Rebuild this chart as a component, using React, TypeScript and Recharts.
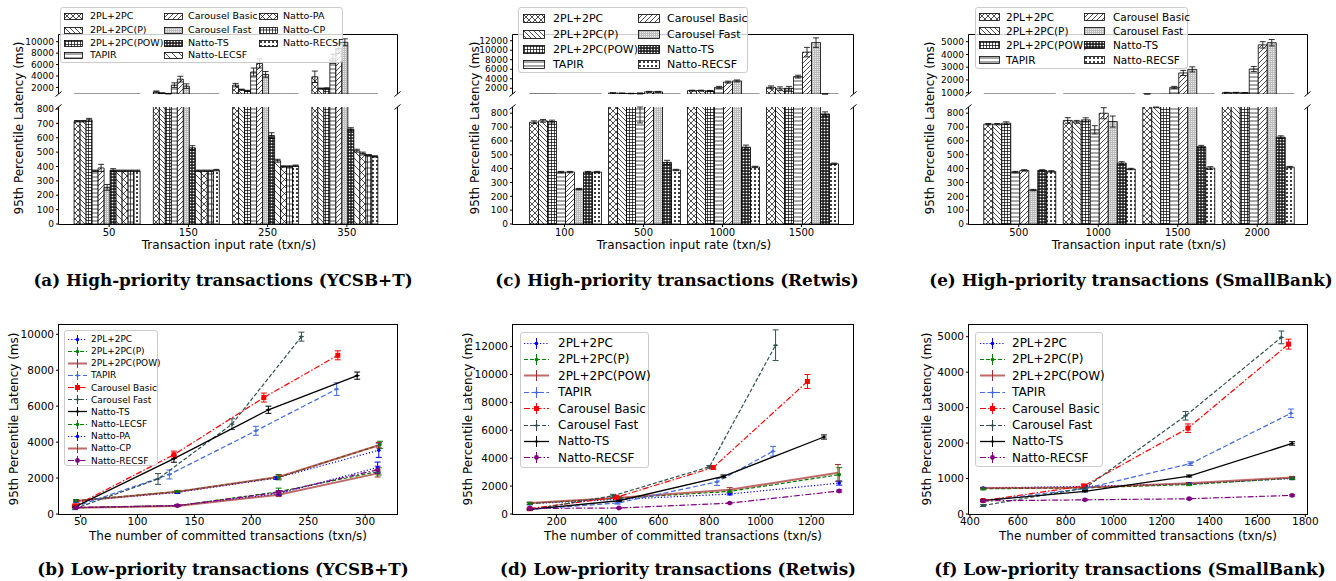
import React from 'react';
import { BarChart, Bar, LineChart, Line, XAxis, YAxis, ErrorBar } from 'recharts';

const FONT = '"DejaVu Sans", sans-serif';
const SERIF = '"DejaVu Serif", "Liberation Serif", serif';

// ---------- high-priority (bars) ----------
const ycsbRates = ['50', '150', '250', '350'];
const ycsbNames = [
  '2PL+2PC', '2PL+2PC(P)', '2PL+2PC(POW)', 'TAPIR', 'Carousel Basic', 'Carousel Fast',
  'Natto-TS', 'Natto-LECSF', 'Natto-PA', 'Natto-CP', 'Natto-RECSF',
];
const ycsbHigh = [
  [715, 1230, 2400, 3860],
  [715, 1000, 1600, 1800],
  [725, 900, 1400, 1800],
  [370, 2400, 4700, 7000],
  [390, 3450, 6200, 8800],
  [255, 2230, 4280, 9900],
  [375, 530, 615, 660],
  [370, 370, 440, 510],
  [370, 370, 400, 490],
  [370, 370, 400, 478],
  [370, 375, 405, 470],
];
const ycsbHighErr = [
  [5, 150, 300, 1000], [5, 50, 100, 100], [10, 50, 100, 150], [5, 400, 700, 800],
  [25, 500, 800, 900], [20, 400, 500, 600], [10, 15, 20, 10], [5, 5, 10, 10],
  [5, 5, 5, 10], [5, 5, 5, 5], [5, 5, 5, 5],
];

const shortNames = [
  '2PL+2PC', '2PL+2PC(P)', '2PL+2PC(POW)', 'TAPIR', 'Carousel Basic', 'Carousel Fast',
  'Natto-TS', 'Natto-RECSF',
];

const retwisRates = ['100', '500', '1000', '1500'];
const retwisHigh = [
  [735, 1000, 1500, 2200],
  [745, 950, 1500, 1900],
  [740, 900, 1450, 2000],
  [375, 880, 2200, 4450],
  [375, 1250, 3300, 9600],
  [252, 1250, 3550, 11600],
  [375, 445, 555, 795],
  [375, 390, 412, 435],
];
const retwisHighErr = [
  [10, 50, 100, 300], [10, 50, 100, 400], [10, 50, 100, 400], [5, 150, 200, 300],
  [5, 100, 200, 1000], [5, 100, 200, 1000], [5, 15, 15, 15], [5, 5, 5, 5],
];

const bankRates = ['500', '1000', '1500', '2000'];
const bankHigh = [
  [721, 748, 880, 1000],
  [721, 738, 860, 1000],
  [728, 752, 870, 990],
  [375, 680, 1420, 2860],
  [387, 800, 2550, 4750],
  [245, 740, 2830, 4920],
  [387, 440, 558, 627],
  [380, 397, 404, 411],
];
const bankHighErr = [
  [5, 20, 20, 30], [5, 10, 20, 30], [10, 15, 20, 30], [5, 30, 80, 200],
  [5, 40, 200, 250], [5, 40, 200, 250], [5, 10, 10, 10], [5, 5, 10, 5],
];

// ---------- low-priority (lines) ----------
const ycsbLowX = [
  [46, 135, 222, 312], [46, 135, 224, 313], [46, 135, 224, 312], [45, 128, 204, 275],
  [45, 132, 211, 276], [45, 118, 183, 244], [45, 132, 215, 293], [46, 135, 224, 312],
  [46, 135, 224, 311], [46, 135, 224, 311], [46, 135, 224, 311],
];
const ycsbLowY = [
  [720, 1200, 2000, 3550], [740, 1250, 2050, 3850], [730, 1240, 2060, 3830],
  [400, 2200, 4630, 6950], [460, 3300, 6480, 8830], [300, 1950, 5000, 9870],
  [400, 3080, 5800, 7700], [350, 460, 1240, 2370], [350, 460, 1130, 2590],
  [350, 450, 1075, 2260], [360, 470, 1200, 2460],
];
const ycsbLowErr = [
  [60, 60, 80, 400], [60, 60, 150, 200], [40, 40, 100, 150], [60, 250, 250, 350],
  [50, 200, 250, 250], [60, 300, 300, 250], [40, 200, 200, 200], [30, 50, 200, 200],
  [30, 40, 100, 300], [30, 40, 100, 200], [40, 40, 100, 200],
];

const retwisLowX = [
  [95, 445, 880, 1310], [95, 445, 880, 1310], [95, 445, 880, 1305], [95, 440, 830, 1050],
  [95, 435, 815, 1185], [95, 422, 800, 1060], [95, 445, 855, 1250], [95, 445, 880, 1310],
];
const retwisLowY = [
  [740, 1050, 1430, 2220], [760, 1130, 1620, 2820], [780, 1170, 1740, 2950],
  [330, 790, 2300, 4500], [380, 1200, 3330, 9500], [300, 1310, 3380, 12100],
  [330, 950, 2700, 5520], [400, 430, 780, 1650],
];
const retwisLowErr = [
  [80, 60, 60, 150], [80, 80, 100, 500], [60, 80, 150, 600], [60, 80, 250, 350],
  [40, 100, 100, 500], [50, 100, 100, 1100], [40, 60, 100, 150], [40, 40, 40, 80],
];

const bankLowX = [
  [455, 880, 1315, 1745], [455, 880, 1315, 1745], [455, 880, 1315, 1745], [455, 880, 1320, 1740],
  [455, 875, 1310, 1730], [455, 880, 1300, 1700], [455, 880, 1315, 1745], [455, 880, 1315, 1745],
];
const bankLowY = [
  [730, 780, 850, 1000], [710, 740, 830, 1010], [730, 750, 870, 1030],
  [370, 720, 1420, 2840], [380, 790, 2420, 4790], [240, 730, 2770, 4980],
  [380, 640, 1070, 1990], [370, 400, 430, 525],
];
const bankLowErr = [
  [20, 20, 20, 30], [30, 20, 30, 40], [20, 20, 20, 30], [30, 40, 50, 120],
  [30, 50, 120, 140], [30, 40, 120, 180], [20, 20, 30, 50], [20, 20, 20, 20],
];

// ---------- styling ----------
const patternOf: Record<string, string> = {
  '2PL+2PC': 'p-xx', '2PL+2PC(P)': 'p-bs', '2PL+2PC(POW)': 'p-plus', TAPIR: 'p-h',
  'Carousel Basic': 'p-fs', 'Carousel Fast': 'p-gray', 'Natto-TS': 'p-star',
  'Natto-LECSF': 'p-bs2', 'Natto-PA': 'p-x2', 'Natto-CP': 'p-grid', 'Natto-RECSF': 'p-dots',
};

type LS = { color: string; dash: string; width: number; marker: string; opacity?: number; r?: number };
const lineStyles: Record<string, LS> = {
  '2PL+2PC': { color: '#0000ff', dash: '1.2 2', width: 1.2, marker: 'circle', r: 1.8 },
  '2PL+2PC(P)': { color: '#008000', dash: '4 2', width: 1.2, marker: 'circle', r: 1.8 },
  '2PL+2PC(POW)': { color: '#a52a2a', dash: '', width: 2, marker: 'none', opacity: 0.7 },
  TAPIR: { color: '#4169e1', dash: '5 2.5', width: 1.2, marker: 'plus' },
  'Carousel Basic': { color: '#ff0000', dash: '6 2 1.5 2', width: 1.2, marker: 'square' },
  'Carousel Fast': { color: '#2f4f4f', dash: '4 2', width: 1.2, marker: 'plus' },
  'Natto-TS': { color: '#000000', dash: '', width: 1.3, marker: 'plus' },
  'Natto-LECSF': { color: '#008000', dash: '4 2', width: 1.2, marker: 'circle', r: 1.8 },
  'Natto-PA': { color: '#0000ff', dash: '1.2 2', width: 1.2, marker: 'circle', r: 1.8 },
  'Natto-CP': { color: '#a52a2a', dash: '', width: 2, marker: 'none', opacity: 0.7 },
  'Natto-RECSF': { color: '#800080', dash: '6 2 1.5 2', width: 1.2, marker: 'circle', r: 2.4 },
};

const YW = 44;
const M = 8;
const MR = 18;
const XH = 18;
const UT = 35, UB = 94, LT = 107, LB = 224;
const BT = 325, BB = 514;

function Patterns() {
  const ln = { stroke: '#000', strokeWidth: 0.7, fill: 'none' };
  return (
    <svg width={0} height={0} style={{ position: 'absolute' }}>
      <defs>
        <pattern id="p-xx" width={6} height={6} patternUnits="userSpaceOnUse">
          <rect width={6} height={6} fill="#fff" />
          <path d="M0,0L6,6M6,0L0,6" {...ln} />
        </pattern>
        <pattern id="p-bs" width={5} height={5} patternUnits="userSpaceOnUse">
          <rect width={5} height={5} fill="#fff" />
          <path d="M0,0L5,5M-1,4L1,6M4,-1L6,1" {...ln} />
        </pattern>
        <pattern id="p-plus" width={3} height={3} patternUnits="userSpaceOnUse">
          <rect width={3} height={3} fill="#fff" />
          <path d="M1.5,0V3M0,1.5H3" {...ln} />
        </pattern>
        <pattern id="p-h" width={4} height={4} patternUnits="userSpaceOnUse">
          <rect width={4} height={4} fill="#fff" />
          <path d="M0,2H4" {...ln} />
        </pattern>
        <pattern id="p-fs" width={5} height={5} patternUnits="userSpaceOnUse">
          <rect width={5} height={5} fill="#fff" />
          <path d="M0,5L5,0M-1,1L1,-1M4,6L6,4" {...ln} />
        </pattern>
        <pattern id="p-gray" width={2} height={2} patternUnits="userSpaceOnUse">
          <rect width={2} height={2} fill="#bdbdbd" />
          <rect x={0} y={0} width={1} height={1} fill="#ececec" />
        </pattern>
        <pattern id="p-star" width={3} height={3} patternUnits="userSpaceOnUse">
          <rect width={3} height={3} fill="#222" />
          <circle cx={1.5} cy={1.5} r={0.85} fill="#fff" />
        </pattern>
        <pattern id="p-bs2" width={7} height={7} patternUnits="userSpaceOnUse">
          <rect width={7} height={7} fill="#fff" />
          <path d="M0,0L7,7M-1,6L1,8M6,-1L8,1" {...ln} />
        </pattern>
        <pattern id="p-x2" width={7} height={7} patternUnits="userSpaceOnUse">
          <rect width={7} height={7} fill="#fff" />
          <path d="M0,0L7,7M7,0L0,7" {...ln} />
        </pattern>
        <pattern id="p-grid" width={3} height={6} patternUnits="userSpaceOnUse">
          <rect width={3} height={6} fill="#fff" />
          <path d="M1.5,0V6M0,3H3" {...ln} />
        </pattern>
        <pattern id="p-dots" width={4} height={4} patternUnits="userSpaceOnUse">
          <rect width={4} height={4} fill="#fff" />
          <circle cx={2} cy={2} r={1} fill="#000" />
        </pattern>
      </defs>
    </svg>
  );
}

type Axis = { domain: [number, number]; ticks: number[] };

// error bar limited to the visible range of one half of a broken axis
function clipErr(v: number, e: number, lo: number, hi: number) {
  if (v + e < lo || v - e > hi) return undefined;
  return [Math.min(e, v - lo), Math.min(e, hi - v)];
}

type BarPanelProps = {
  rates: string[]; names: string[]; values: number[][]; errs: number[][];
  L: number; R: number; pad: number; gap: number; upper: Axis; lower: Axis;
};

function BarPanel(p: BarPanelProps) {
  const makeRows = (ax: Axis) => p.rates.map((r, i) => {
    const row: Record<string, any> = { rate: r };
    p.values.forEach((v, s) => {
      row['v' + s] = v[i];
      row['e' + s] = clipErr(v[i], p.errs[s][i], ax.domain[0], ax.domain[1]);
    });
    return row;
  });
  const w = YW + (p.R - p.L) + MR;
  const yTick = { fill: '#000', fontSize: 9, fontFamily: FONT };
  const bars = p.names.map((n, s) => (
    <Bar key={n} dataKey={'v' + s} fill={`url(#${patternOf[n]})`} stroke="#000" strokeWidth={0.8} isAnimationActive={false}>
      <ErrorBar dataKey={'e' + s} width={3} stroke="#000" strokeWidth={0.8} />
    </Bar>
  ));
  return (
    <>
      <div style={{ position: 'absolute', left: p.L - YW, top: UT - M }}>
        <BarChart width={w} height={M + UB - UT + 6} data={makeRows(p.upper)} margin={{ top: M, right: MR, bottom: 6, left: 0 }}
          barCategoryGap={p.gap} barGap={0}>
          <XAxis dataKey="rate" hide padding={{ left: p.pad, right: p.pad }} />
          <YAxis type="number" width={YW} domain={p.upper.domain} ticks={p.upper.ticks} allowDataOverflow axisLine={false}
            tickSize={3} tickMargin={2} tickLine={{ stroke: '#000' }} tick={yTick} interval={0} />
          {bars}
        </BarChart>
      </div>
      <div style={{ position: 'absolute', left: p.L - YW, top: LT - M }}>
        <BarChart width={w} height={M + LB - LT + XH} data={makeRows(p.lower)} margin={{ top: M, right: MR, bottom: 0, left: 0 }}
          barCategoryGap={p.gap} barGap={0}>
          <XAxis dataKey="rate" padding={{ left: p.pad, right: p.pad }} axisLine={false} height={XH} interval={0}
            tickSize={3} tickMargin={2} tickLine={{ stroke: '#000' }} tick={{ fill: '#000', fontSize: 10, fontFamily: FONT }} />
          <YAxis type="number" width={YW} domain={p.lower.domain} ticks={p.lower.ticks} allowDataOverflow axisLine={false}
            tickSize={3} tickMargin={2} tickLine={{ stroke: '#000' }} tick={yTick} interval={0} />
          {bars}
        </BarChart>
      </div>
    </>
  );
}

function dotFor(st: LS) {
  return (props: any) => {
    const { cx, cy, index } = props;
    if (cx == null || cy == null || st.marker === 'none') return <g key={index} />;
    if (st.marker === 'square') {
      return <rect key={index} x={cx - 2.5} y={cy - 2.5} width={5} height={5} fill={st.color} />;
    }
    if (st.marker === 'plus') {
      return (
        <g key={index}>
          <path d={`M${cx - 2.5},${cy}H${cx + 2.5}`} stroke={st.color} strokeWidth={1} />
          <circle cx={cx} cy={cy} r={1.3} fill={st.color} />
        </g>
      );
    }
    return <circle key={index} cx={cx} cy={cy} r={st.r ?? 2} fill={st.color} />;
  };
}

type LinePanelProps = {
  names: string[]; xs: number[][]; ys: number[][]; errs: number[][];
  L: number; R: number; x: Axis; y: Axis;
};

function LinePanel(p: LinePanelProps) {
  const tick = { fill: '#000', fontSize: 10.5, fontFamily: FONT };
  return (
    <div style={{ position: 'absolute', left: p.L - YW, top: BT - M }}>
      <LineChart width={YW + (p.R - p.L) + MR} height={M + BB - BT + XH} margin={{ top: M, right: MR, bottom: 0, left: 0 }}>
        <XAxis type="number" dataKey="x" domain={p.x.domain} ticks={p.x.ticks} allowDataOverflow axisLine={false}
          height={XH} interval={0} tickSize={3} tickMargin={1} tickLine={{ stroke: '#000' }} tick={tick} />
        <YAxis type="number" dataKey="y" width={YW} domain={p.y.domain} ticks={p.y.ticks} allowDataOverflow axisLine={false}
          interval={0} tickSize={3} tickMargin={2} tickLine={{ stroke: '#000' }} tick={tick} />
        {p.names.map((n, s) => {
          const st = lineStyles[n];
          const data = p.xs[s].map((xv, i) => ({ x: xv, y: p.ys[s][i], err: p.errs[s][i] }));
          return (
            <Line key={n} data={data} dataKey="y" stroke={st.color} strokeWidth={st.width} strokeOpacity={st.opacity ?? 1}
              strokeDasharray={st.dash || undefined} dot={dotFor(st)} activeDot={false} isAnimationActive={false}>
              <ErrorBar dataKey="err" width={3} stroke={st.color} strokeWidth={1} direction="y" />
            </Line>
          );
        })}
      </LineChart>
    </div>
  );
}

type LegendProps = {
  left: number; top: number; width: number; height: number; names: string[];
  cols: number[]; textCols: number[]; rows: number[]; perCol: number; font: number; sw: number; sh: number; lines?: boolean;
};

function Legend(p: LegendProps) {
  return (
    <div style={{
      position: 'absolute', left: p.left, top: p.top, width: p.width, height: p.height,
      background: 'rgba(255,255,255,0.8)', border: '1px solid #cccccc', borderRadius: 3, boxSizing: 'border-box',
    }}>
      {p.names.map((n, i) => {
        const c = Math.floor(i / p.perCol);
        const r = i % p.perCol;
        const st = lineStyles[n];
        return (
          <React.Fragment key={n}>
            <svg style={{ position: 'absolute', left: p.cols[c], top: p.rows[r] - p.sh / 2 }} width={p.sw} height={p.sh}>
              {p.lines ? (
                <>
                  <line x1={0} x2={p.sw} y1={p.sh / 2} y2={p.sh / 2} stroke={st.color} strokeWidth={st.width}
                    strokeOpacity={st.opacity ?? 1} strokeDasharray={st.dash || undefined} />
                  <line x1={p.sw / 2} x2={p.sw / 2} y1={0} y2={p.sh} stroke={st.color} strokeWidth={1} />
                  {dotFor(st)({ cx: p.sw / 2, cy: p.sh / 2, index: 0 })}
                </>
              ) : (
                <rect x={0.5} y={0.5} width={p.sw - 1} height={p.sh - 1} fill={`url(#${patternOf[n]})`} stroke="#000" strokeWidth={0.8} />
              )}
            </svg>
            <div style={{
              position: 'absolute', left: p.textCols[c], top: p.rows[r], transform: 'translateY(-50%)',
              fontFamily: FONT, fontSize: p.font, whiteSpace: 'nowrap', lineHeight: 1,
            }}>{n}</div>
          </React.Fragment>
        );
      })}
    </div>
  );
}

function Text(props: { x: number; y: number; size: number; rotate?: boolean; serif?: boolean; children: React.ReactNode }) {
  return (
    <div style={{
      position: 'absolute', left: props.x, top: props.y, whiteSpace: 'nowrap', lineHeight: 1,
      transform: `translate(-50%,-50%)${props.rotate ? ' rotate(-90deg)' : ''}`,
      fontFamily: props.serif ? SERIF : FONT, fontSize: props.size, fontWeight: props.serif ? 700 : 400,
    }}>{props.children}</div>
  );
}

function Frames() {
  const tops: [number, number][] = [[59, 397], [513, 853], [969, 1307]];
  const brk = (x: number, y: number) => `M${x - 3},${y + 2.5}L${x + 3},${y - 2.5}`;
  return (
    <svg width={1336} height={581} style={{ position: 'absolute', left: 0, top: 0, pointerEvents: 'none' }}>
      {tops.map(([l, r]) => (
        <g key={l} fill="none" stroke="#000" strokeWidth={1}>
          <path d={`M${l - 0.5},${UB}V${UT - 0.5}H${r + 0.5}V${UB}`} />
          <path d={`M${l - 0.5},${LT}V${LB + 0.5}H${r + 0.5}V${LT}`} />
          <path d={brk(l - 0.5, UB) + brk(r + 0.5, UB) + brk(l - 0.5, LT) + brk(r + 0.5, LT)} />
          <rect x={l - 0.5} y={BT - 0.5} width={r - l + 1} height={BB - BT + 1} />
        </g>
      ))}
    </svg>
  );
}

export default function App() {
  const yLabel = '95th Percentile Latency (ms)';
  return (
    <div style={{ position: 'absolute', left: 0, top: 0, width: 1336, height: 581, background: '#fff', overflow: 'hidden' }}>
      <Patterns />
      <BarPanel rates={ycsbRates} names={ycsbNames} values={ycsbHigh} errs={ycsbHighErr} L={59} R={397} pad={10.5} gap={4.6}
        upper={{ domain: [850, 11175], ticks: [2000, 4000, 6000, 8000, 10000] }}
        lower={{ domain: [0, 814], ticks: [0, 100, 200, 300, 400, 500, 600, 700, 800] }} />
      <BarPanel rates={retwisRates} names={shortNames} values={retwisHigh} errs={retwisHighErr} L={513} R={853} pad={12} gap={4.5}
        upper={{ domain: [800, 13200], ticks: [2000, 4000, 6000, 8000, 10000, 12000] }}
        lower={{ domain: [0, 845], ticks: [0, 100, 200, 300, 400, 500, 600, 700, 800] }} />
      <BarPanel rates={bankRates} names={shortNames} values={bankHigh} errs={bankHighErr} L={969} R={1307} pad={10} gap={4.75}
        upper={{ domain: [900, 5525], ticks: [1000, 2000, 3000, 4000, 5000] }}
        lower={{ domain: [0, 845], ticks: [0, 100, 200, 300, 400, 500, 600, 700, 800] }} />

      <LinePanel names={ycsbNames} xs={ycsbLowX} ys={ycsbLowY} errs={ycsbLowErr} L={59} R={397}
        x={{ domain: [31, 328], ticks: [50, 100, 150, 200, 250, 300] }}
        y={{ domain: [0, 10518], ticks: [0, 2000, 4000, 6000, 8000, 10000] }} />
      <LinePanel names={shortNames} xs={retwisLowX} ys={retwisLowY} errs={retwisLowErr} L={513} R={853}
        x={{ domain: [29, 1364], ticks: [200, 400, 600, 800, 1000, 1200] }}
        y={{ domain: [0, 13550], ticks: [0, 2000, 4000, 6000, 8000, 10000, 12000] }} />
      <LinePanel names={shortNames} xs={bankLowX} ys={bankLowY} errs={bankLowErr} L={969} R={1307}
        x={{ domain: [396, 1807], ticks: [400, 600, 800, 1000, 1200, 1400, 1600, 1800] }}
        y={{ domain: [0, 5330], ticks: [0, 1000, 2000, 3000, 4000, 5000] }} />

      <Frames />

      <Legend left={60} top={7} width={283} height={56} names={ycsbNames} perCol={4} cols={[3, 103, 198]} textCols={[29, 127, 222]}
        rows={[8, 22, 35, 47]} font={9.5} sw={19} sh={7} />
      <Legend left={518} top={7} width={230} height={66} names={shortNames} perCol={4} cols={[4, 119]} textCols={[34, 148]}
        rows={[10, 26, 41, 56]} font={11} sw={22} sh={9} />
      <Legend left={975} top={7} width={213} height={62} names={shortNames} perCol={4} cols={[3, 108]} textCols={[30, 137]}
        rows={[9, 23, 37, 52]} font={10.5} sw={21} sh={8} />

      <Legend left={64} top={330} width={94} height={136} names={ycsbNames} perCol={11} cols={[3]} textCols={[26]}
        rows={ycsbNames.map((_, i) => 8 + i * 12.15)} font={9} sw={19} sh={9} lines />
      <Legend left={520} top={332} width={129} height={136} names={shortNames} perCol={8} cols={[3]} textCols={[37]}
        rows={shortNames.map((_, i) => 10 + i * 16.4)} font={12} sw={25} sh={11} lines />
      <Legend left={975} top={332} width={128} height={135} names={shortNames} perCol={8} cols={[4]} textCols={[36]}
        rows={shortNames.map((_, i) => 10 + i * 16.4)} font={12} sw={25} sh={11} lines />

      <Text x={19} y={128} size={12} rotate>{yLabel}</Text>
      <Text x={475} y={128} size={12} rotate>{yLabel}</Text>
      <Text x={930} y={128} size={12} rotate>{yLabel}</Text>
      <Text x={14} y={419} size={12} rotate>{yLabel}</Text>
      <Text x={468} y={419} size={12} rotate>{yLabel}</Text>
      <Text x={927} y={419} size={12} rotate>{yLabel}</Text>

      <Text x={229} y={245} size={12}>Transaction input rate (txn/s)</Text>
      <Text x={684} y={245} size={12}>Transaction input rate (txn/s)</Text>
      <Text x={1139} y={245} size={12}>Transaction input rate (txn/s)</Text>
      <Text x={228} y={536} size={12}>The number of committed transactions (txn/s)</Text>
      <Text x={683} y={536} size={12}>The number of committed transactions (txn/s)</Text>
      <Text x={1138} y={536} size={12}>The number of committed transactions (txn/s)</Text>

      <Text x={223} y={280} size={16.8} serif>(a) High-priority transactions (YCSB+T)</Text>
      <Text x={677} y={280} size={16.8} serif>(c) High-priority transactions (Retwis)</Text>
      <Text x={1131} y={280} size={16.8} serif>(e) High-priority transactions (SmallBank)</Text>
      <Text x={223} y={569} size={16.8} serif>(b) Low-priority transactions (YCSB+T)</Text>
      <Text x={678} y={569} size={16.8} serif>(d) Low-priority transactions (Retwis)</Text>
      <Text x={1130} y={569} size={16.8} serif>(f) Low-priority transactions (SmallBank)</Text>
    </div>
  );
}
